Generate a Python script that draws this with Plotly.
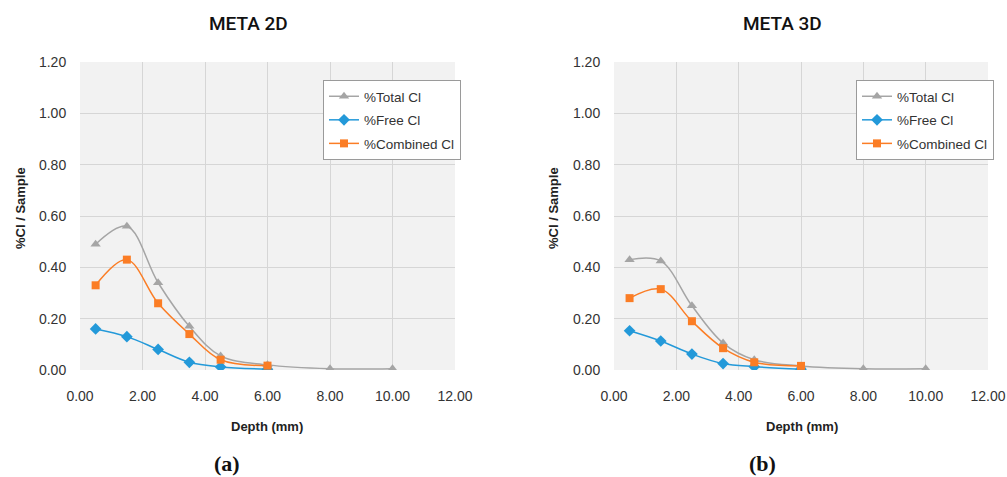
import plotly.graph_objects as go

# Depth (mm) at which each series was sampled
depth_total = [0.5, 1.5, 2.5, 3.5, 4.5, 6.0, 8.0, 10.0]
depth_short = [0.5, 1.5, 2.5, 3.5, 4.5, 6.0]

# META 2D
total_2d = [0.49, 0.56, 0.34, 0.17, 0.055, 0.02, 0.005, 0.005]
free_2d = [0.16, 0.13, 0.08, 0.03, 0.012, 0.003]
combined_2d = [0.33, 0.43, 0.26, 0.14, 0.04, 0.017]

# META 3D
total_3d = [0.43, 0.425, 0.25, 0.105, 0.04, 0.016, 0.005, 0.005]
free_3d = [0.153, 0.113, 0.062, 0.025, 0.013, 0.003]
combined_3d = [0.28, 0.315, 0.19, 0.085, 0.03, 0.016]

x_ticks = [0, 2, 4, 6, 8, 10, 12]
y_ticks = [0, 0.2, 0.4, 0.6, 0.8, 1.0, 1.2]

GRAY = "#a5a5a5"
BLUE = "#2399d9"
ORANGE = "#fb7d25"

fig = go.Figure()

panels = [
    ("x", "y", "legend", "2d", total_2d, free_2d, combined_2d),
    ("x2", "y2", "legend2", "3d", total_3d, free_3d, combined_3d),
]
for xa, ya, leg, tag, tot, fre, com in panels:
    fig.add_trace(go.Scatter(
        x=depth_total, y=tot, name="%Total Cl", xaxis=xa, yaxis=ya, legend=leg,
        legendgroup=f"total_{tag}",
        mode="lines+markers", line=dict(color=GRAY, width=1.5, shape="spline", smoothing=1.0),
        marker=dict(symbol="triangle-up", size=9, color=GRAY)))
    fig.add_trace(go.Scatter(
        x=depth_short, y=fre, name="%Free Cl", xaxis=xa, yaxis=ya, legend=leg,
        legendgroup=f"free_{tag}",
        mode="lines+markers", line=dict(color=BLUE, width=1.5, shape="spline", smoothing=1.0),
        marker=dict(symbol="diamond", size=9, color=BLUE)))
    fig.add_trace(go.Scatter(
        x=depth_short, y=com, name="%Combined Cl", xaxis=xa, yaxis=ya, legend=leg,
        legendgroup=f"combined_{tag}",
        mode="lines+markers", line=dict(color=ORANGE, width=1.5, shape="spline", smoothing=1.0),
        marker=dict(symbol="square", size=8, color=ORANGE)))

W, H = 1007, 477
SANS = "Liberation Sans, Arial, sans-serif"
tick_font = dict(family=SANS, size=14, color="#333333")
label_font = dict(family=SANS, size=13, color="#222222")

def xaxis(domain, anchor):
    return dict(domain=domain, anchor=anchor, range=[0, 12], tickvals=x_ticks,
                ticktext=[f"{v:.2f}" for v in x_ticks], tickfont=tick_font,
                showgrid=True, gridcolor="#d6d6d6", gridwidth=1, zeroline=False,
                showline=False, ticks="outside", ticklen=13, tickcolor="rgba(0,0,0,0)",
                automargin=False)

def yaxis(domain, anchor):
    return dict(domain=domain, anchor=anchor, range=[0, 1.2], tickvals=y_ticks,
                ticktext=[f"{v:.2f}" for v in y_ticks], tickfont=tick_font,
                showgrid=True, gridcolor="#d6d6d6", gridwidth=1, zeroline=False,
                showline=False, ticks="outside", ticklen=10, tickcolor="rgba(0,0,0,0)",
                automargin=False)

ydom = [(H - 370) / H, (H - 62) / H]
fig.update_layout(
    width=W, height=H,
    margin=dict(l=0, r=0, t=0, b=0, autoexpand=False),
    paper_bgcolor="white",
    plot_bgcolor="#f2f2f2",
    showlegend=True,
    xaxis=xaxis([80 / W, 455 / W], "y"),
    yaxis=yaxis(ydom, "x"),
    xaxis2=xaxis([614 / W, 988 / W], "y2"),
    yaxis2=yaxis(ydom, "x2"),
)

legend_style = dict(bgcolor="white", bordercolor="#9a9a9a", borderwidth=1,
                    font=dict(family=SANS, size=13.5, color="#333333"),
                    xanchor="center", yanchor="top", itemwidth=30, tracegroupgap=3)
fig.update_layout(
    legend=dict(x=392 / W, y=1 - 80 / H, **legend_style),
    legend2=dict(x=925 / W, y=1 - 80 / H, **legend_style),
)

# Panel titles, axis titles and captions
panels_text = [
    dict(title="META 2D", tx=248, ylab_x=20, xlab_x=267, cap="(a)", cap_x=227),
    dict(title="META 3D", tx=782, ylab_x=553, xlab_x=802, cap="(b)", cap_x=762),
]
for p in panels_text:
    fig.add_annotation(x=p["tx"] / W, y=1 - 24 / H, xref="paper", yref="paper", text=p["title"],
                       showarrow=False, xanchor="center", yanchor="middle",
                       font=dict(family="Roboto, sans-serif", size=19, color="#111111", weight=500))
    fig.add_annotation(x=p["ylab_x"] / W, y=1 - 208 / H, xref="paper", yref="paper",
                       text="<b>%Cl / Sample</b>", textangle=-90,
                       showarrow=False, xanchor="center", yanchor="middle", font=label_font)
    fig.add_annotation(x=p["xlab_x"] / W, y=1 - 426 / H, xref="paper", yref="paper",
                       text="<b>Depth (mm)</b>",
                       showarrow=False, xanchor="center", yanchor="middle", font=label_font)
    fig.add_annotation(x=p["cap_x"] / W, y=1 - 463 / H, xref="paper", yref="paper",
                       text=f"<b>{p['cap']}</b>",
                       showarrow=False, xanchor="center", yanchor="middle",
                       font=dict(family="Liberation Serif, serif", size=22, color="#111111"))

fig.write_html("out.html")
